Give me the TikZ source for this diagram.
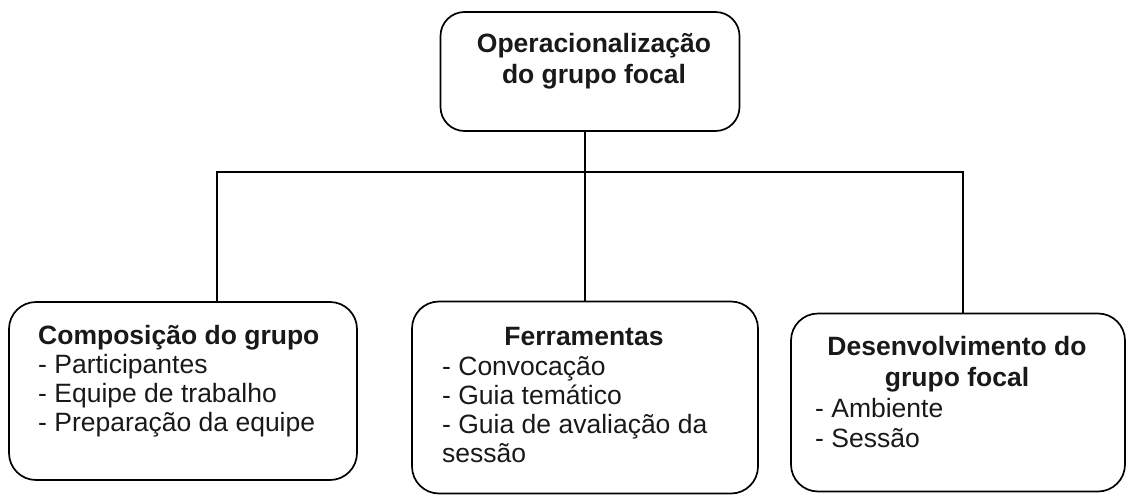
\documentclass[tikz,border=0pt]{standalone}
\usepackage{fontspec}
\setmainfont{Liberation Sans}
\begin{document}
\begin{tikzpicture}[x=1pt,y=-1pt,
  box/.style={draw=black,line width=1.7pt,rounded corners=27pt,inner sep=0pt},
  conn/.style={draw=black,line width=1.7pt},
  txt/.style={inner sep=0pt,font=\fontsize{26.5}{29}\selectfont,text=black!90},
  hd/.style={txt,font=\fontsize{26.5}{29}\selectfont\bfseries}]
\useasboundingbox (0,0) rectangle (1127,495);
% boxes
\node[box,minimum width=299pt,minimum height=119pt,rounded corners=24pt] (top) at (590,71.5) {};
\node[box,minimum width=348pt,minimum height=178pt] (b1) at (183,391) {};
\node[box,minimum width=346pt,minimum height=192pt] (b2) at (585,397.5) {};
\node[box,minimum width=334pt,minimum height=178pt] (b3) at (958,402.5) {};
% connectors
\coordinate (j1) at (217,172);
\coordinate (j3) at (963,172);
\draw[conn] (top.south -| b2.north) -- (b2.north);
\draw[conn] (j1 |- b1.north) -- (j1) -- (j3) -- (j3 |- b3.north);
% top text
\node[hd,anchor=base] (t1) at (594,53) {Operacionalização};
\node[hd,anchor=base] (t2) at (594,84) {do grupo focal};
% box 1
\node[hd,anchor=base west] (a0) at (38,344) {Composição do grupo};
\node[txt,anchor=base west] (a1) at (38,373) {- Participantes};
\node[txt,anchor=base west] (a2) at (38,402) {- Equipe de trabalho};
\node[txt,anchor=base west] (a3) at (38,431) {- Preparação da equipe};
% box 2
\node[hd,anchor=base] (f0) at (584,345) {Ferramentas};
\node[txt,anchor=base west] (f1) at (442,375) {- Convocação};
\node[txt,anchor=base west] (f2) at (442,404) {- Guia temático};
\node[txt,anchor=base west] (f3) at (442,433) {- Guia de avaliação da};
\node[txt,anchor=base west] (f4) at (442,462) {sessão};
% box 3
\node[hd,anchor=base] (d0) at (957,355) {Desenvolvimento do};
\node[hd,anchor=base] (d1) at (957,386) {grupo focal};
\node[txt,anchor=base west] (d2) at (815,417) {- Ambiente};
\node[txt,anchor=base west] (d3) at (815,447) {- Sessão};
\end{tikzpicture}
\end{document}
